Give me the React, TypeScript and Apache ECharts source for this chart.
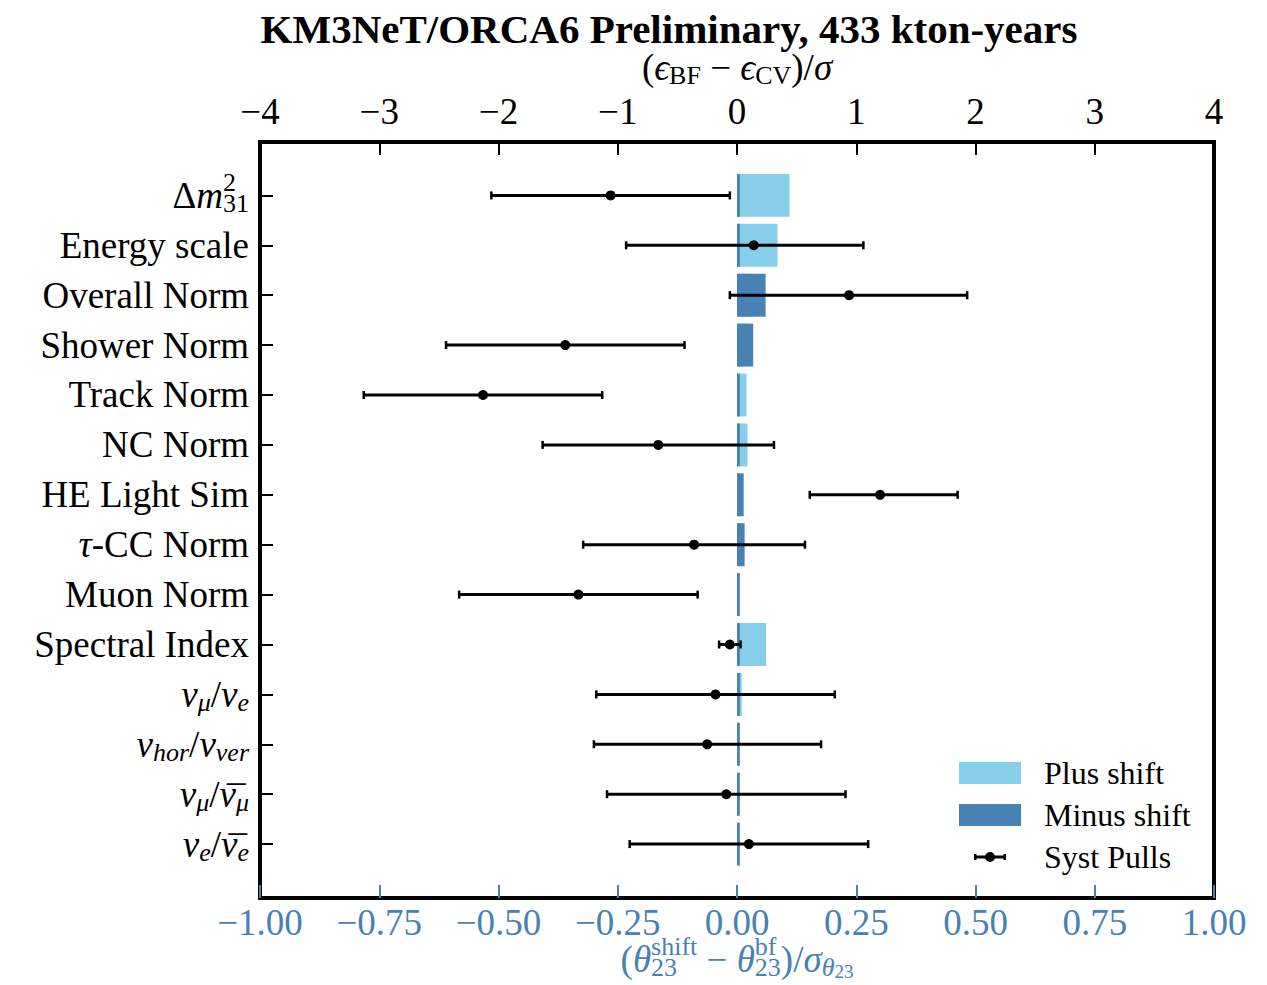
import React, { useEffect, useRef } from 'react';
import * as echarts from 'echarts';

// ---------------- data ----------------
const parameterLabels = [
  '{t|Δ}{i|m}{supz|2}{sub|31}',
  'Energy scale',
  'Overall Norm',
  'Shower Norm',
  'Track Norm',
  'NC Norm',
  'HE Light Sim',
  '{i|τ}{t|-CC Norm}',
  'Muon Norm',
  'Spectral Index',
  '{i|ν}{isub|μ}{t|/}{i|ν}{isub|e}',
  '{i|ν}{isub|hor}{t|/}{i|ν}{isub|ver}',
  '{i|ν}{isub|μ}{t|/}{bar|\u2009¯}{i|ν}{isub|μ}',
  '{i|ν}{isub|e}{t|/}{bar|\u2009¯}{i|ν}{isub|e}',
];
const rowIndex = [0, 1, 2, 3, 4, 5, 6, 7, 8, 9, 10, 11, 12, 13];

// theta23 shift (bottom axis)
const plusShift = [0.11, 0.085, 0.03, 0.02, 0.02, 0.022, 0.008, 0.01, 0.004, 0.061, 0.01, 0.004, 0.004, 0.004];
const minusShift = [0.006, 0.006, 0.06, 0.034, 0.006, 0.006, 0.014, 0.016, 0.006, 0.006, 0.006, 0.006, 0.006, 0.006];

// systematic pulls (top axis)
const pullValues = [-1.06, 0.14, 0.94, -1.44, -2.13, -0.66, 1.2, -0.36, -1.33, -0.06, -0.18, -0.25, -0.09, 0.1];
const pullErrLow = [1.0, 1.07, 1.0, 1.0, 1.0, 0.97, 0.59, 0.93, 1.0, 0.09, 1.0, 0.95, 1.0, 1.0];
const pullErrHigh = [1.0, 0.92, 0.99, 1.0, 1.0, 0.97, 0.65, 0.93, 1.0, 0.09, 1.0, 0.955, 1.0, 1.0];

const titleText = 'KM3NeT/ORCA6 Preliminary, 433 kton-years';
const topAxisName = '{t|(}{i|ϵ}{sub|BF}{t| − }{i|ϵ}{sub|CV}{t|)/}{i|σ}';
const bottomAxisName =
  '{t|(}{i|θ}{subz|23}{sup|shift}{t| − }{i|θ}{supz|bf}{sub|23}{t|)/}{i|σ}{isub|θ}{subsub|23}';

// ---------------- styles ----------------
const FONT = '"Liberation Serif", "DejaVu Serif", serif';
const LIGHT = '#87CEEB';
const DARK = '#4682B4';
const BLUE_AXIS = '#4682B4';
const FS = 37;

const richBase = (color: string, size: number) => {
  const s = Math.round(size * 0.7);
  const base = { fontFamily: FONT, color, align: 'left' };
  return {
    t: { ...base, fontSize: size },
    i: { ...base, fontSize: size, fontStyle: 'italic' },
    sup: { ...base, fontSize: s, padding: [0, 0, 26, 0] },
    supz: { ...base, fontSize: s, padding: [0, 0, 26, 0], width: 0 },
    sub: { ...base, fontSize: s, padding: [16, 0, 0, 0] },
    subz: { ...base, fontSize: s, padding: [16, 0, 0, 0], width: 0 },
    isub: { ...base, fontSize: s, fontStyle: 'italic', padding: [16, 0, 0, 0] },
    subsub: { ...base, fontSize: Math.round(size * 0.5), padding: [24, 0, 0, 0] },
    bar: { ...base, fontSize: size, width: 0, padding: [11, 0, 0, 0] },
  };
};

const PULL_ICON =
  'path://M0 3.5 H32 V6.5 H0 Z M0 2 H2.5 V8 H0 Z M29.5 2 H32 V8 H29.5 Z M21 5 A5 5 0 1 1 11 5 A5 5 0 1 1 21 5 Z';

const fmtMinus = (s: string) => s.replace('-', '−');

function barSeries(name: string, values: number[], color: string) {
  return {
    name,
    type: 'custom',
    xAxisIndex: 0,
    yAxisIndex: 0,
    encode: { x: 1, y: 0 },
    data: rowIndex.map((r, k) => [r, values[k]]),
    renderItem: (_params: any, api: any) => {
      const idx = api.value(0);
      const v = api.value(1);
      const a = api.coord([0, idx]);
      const b = api.coord([v, idx]);
      const h = api.size([0, 0.86])[1];
      return {
        type: 'rect',
        shape: { x: Math.min(a[0], b[0]), y: a[1] - h / 2, width: Math.abs(b[0] - a[0]), height: h },
        style: { fill: color },
      };
    },
  };
}

export default function App() {
  const ref = useRef<HTMLDivElement>(null);
  useEffect(() => {
    if (!ref.current) return;
    const chart = echarts.init(ref.current, undefined, { renderer: 'svg' });
    const option: any = {
      animation: false,
      backgroundColor: '#fff',
      title: {
        text: titleText,
        left: 664,
        top: 3,
        textAlign: 'center',
        textStyle: { fontFamily: FONT, fontWeight: 'bold', fontSize: 41, color: '#000' },
      },
      grid: {
        left: 260,
        right: 53,
        top: 142,
        bottom: 87,
        outerBoundsMode: 'none',
        containLabel: false,
        show: true,
        borderColor: '#000',
        borderWidth: 4,
        backgroundColor: 'transparent',
      },
      xAxis: [
        {
          type: 'value',
          position: 'bottom',
          min: -1,
          max: 1,
          interval: 0.25,
          axisLine: { show: false, onZero: false },
          splitLine: { show: false },
          axisTick: { show: true, inside: true, length: 13, lineStyle: { color: BLUE_AXIS, width: 2 } },
          axisLabel: {
            margin: 6,
            color: BLUE_AXIS,
            fontFamily: FONT,
            fontSize: FS,
            formatter: (v: number) => fmtMinus(v.toFixed(2)),
          },
          name: bottomAxisName,
          nameLocation: 'middle',
          nameGap: 35,
          nameMoveOverlap: false,
          nameTextStyle: { color: BLUE_AXIS, fontFamily: FONT, fontSize: FS, rich: richBase(BLUE_AXIS, FS) },
        },
        {
          type: 'value',
          position: 'top',
          min: -4,
          max: 4,
          interval: 1,
          axisLine: { show: false, onZero: false },
          splitLine: { show: false },
          axisTick: { show: true, inside: true, length: 13, lineStyle: { color: '#000', width: 2 } },
          axisLabel: {
            margin: 12,
            color: '#000',
            fontFamily: FONT,
            fontSize: FS,
            formatter: (v: number) => fmtMinus(String(v)),
          },
          name: topAxisName,
          nameLocation: 'middle',
          nameGap: 50,
          nameTextStyle: { color: '#000', fontFamily: FONT, fontSize: FS, rich: richBase('#000', FS) },
        },
      ],
      yAxis: {
        type: 'value',
        inverse: true,
        min: -1.07,
        max: 14.08,
        axisLine: { show: false, onZero: false },
        splitLine: { show: false },
        axisTick: { show: true, inside: true, length: 13, customValues: rowIndex, lineStyle: { color: '#000', width: 2 } },
        axisLabel: {
          customValues: rowIndex,
          margin: 11,
          color: '#000',
          fontFamily: FONT,
          fontSize: FS,
          formatter: (v: number) => parameterLabels[Math.round(v)] ?? '',
          rich: richBase('#000', FS),
        },
      },
      legend: [
        {
          data: [
            { name: 'Plus shift', icon: 'rect', itemStyle: { color: LIGHT } },
            { name: 'Minus shift', icon: 'rect', itemStyle: { color: DARK } },
          ],
          orient: 'vertical',
          left: 959,
          top: 757,
          itemWidth: 62,
          itemHeight: 22,
          itemGap: 10,
          padding: 0,
          selectedMode: false,
          textStyle: { fontFamily: FONT, fontSize: 32, color: '#000', padding: [0, 0, 0, 18] },
        },
        {
          data: [{ name: 'Syst Pulls', icon: PULL_ICON, itemStyle: { color: '#000' } }],
          orient: 'vertical',
          left: 974,
          top: 841,
          itemWidth: 32,
          itemHeight: 10,
          padding: 0,
          selectedMode: false,
          textStyle: { fontFamily: FONT, fontSize: 32, color: '#000', padding: [0, 0, 0, 33] },
        },
      ],
      series: [
        barSeries('Plus shift', plusShift, LIGHT),
        barSeries('Minus shift', minusShift, DARK),
        {
          name: 'Syst Pulls',
          type: 'custom',
          xAxisIndex: 1,
          yAxisIndex: 0,
          encode: { x: 1, y: 0 },
          itemStyle: { color: '#000' },
          data: rowIndex.map((r, k) => [r, pullValues[k], pullErrLow[k], pullErrHigh[k]]),
          renderItem: (_params: any, api: any) => {
            const idx = api.value(0);
            const p = api.value(1);
            const lo = api.value(2);
            const hi = api.value(3);
            const c = api.coord([p, idx]);
            const l = api.coord([p - lo, idx]);
            const r = api.coord([p + hi, idx]);
            return {
              type: 'group',
              children: [
                { type: 'line', shape: { x1: l[0], y1: l[1], x2: r[0], y2: r[1] }, style: { stroke: '#000', lineWidth: 3 } },
                { type: 'rect', shape: { x: l[0] - 1.25, y: l[1] - 4, width: 2.5, height: 8 }, style: { fill: '#000' } },
                { type: 'rect', shape: { x: r[0] - 1.25, y: r[1] - 4, width: 2.5, height: 8 }, style: { fill: '#000' } },
                { type: 'circle', shape: { cx: c[0], cy: c[1], r: 5 }, style: { fill: '#000' } },
              ],
            };
          },
        },
      ],
    };
    chart.setOption(option);
    return () => chart.dispose();
  }, []);
  return <div ref={ref} style={{ position: 'absolute', left: 0, top: 0, width: 1267, height: 985 }} />;
}
